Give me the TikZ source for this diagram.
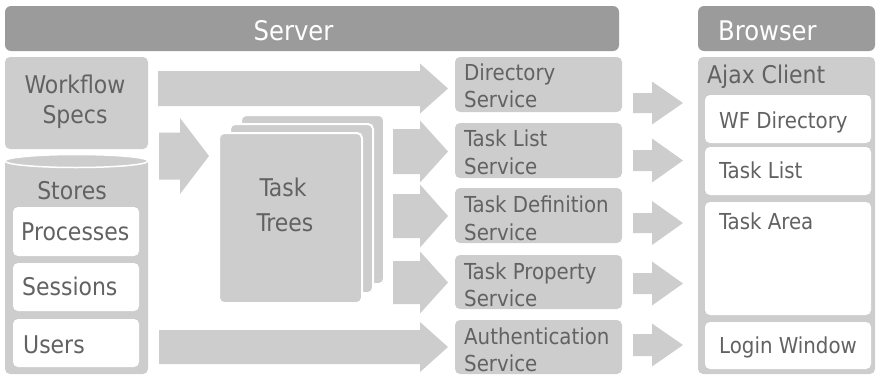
\documentclass[tikz,border=0pt]{standalone}
\usepackage{fontspec}
\setmainfont{DejaVu Sans Condensed}
\definecolor{barc}{HTML}{9B9B9B}
\definecolor{boxc}{HTML}{CDCDCD}
\definecolor{txtc}{HTML}{626262}
\newcommand\blockarrow[6]{%
  \fill[boxc] ({#1},{#4-#5}) -- ({#2},{#4-#5}) -- ({#2},{#4-#6}) -- ({#3},{#4})
    -- ({#2},{#4+#6}) -- ({#2},{#4+#5}) -- ({#1},{#4+#5}) -- cycle;}
\begin{document}
\begin{tikzpicture}[x=1pt,y=-1pt,
  bartxt/.style={font=\fontsize{27}{32}\selectfont, text=white, inner sep=0},
  bigtxt/.style={font=\fontsize{24.4}{29}\selectfont, text=txtc, inner sep=0},
  smtxt/.style={font=\fontsize{22}{26}\selectfont, text=txtc, inner sep=0},
  barbox/.style={fill=barc, rounded corners=6pt},
  panel/.style={fill=boxc, rounded corners=5pt},
  wbox/.style={fill=white, rounded corners=5pt},
  card/.style={fill=boxc, draw=white, line width=2pt, rounded corners=5pt}]
\useasboundingbox (0,0) rectangle (877,375);

% bars
\path[barbox] (5,6) rectangle (619,51);
\node[bartxt, anchor=base] (server) at (293.5,40.7) {Server};
\path[barbox] (698,6) rectangle (875,51);
\node[bartxt, anchor=base west] (browser) at (718,40.7) {Browser};

% workflow specs
\path[panel] (5,57) rectangle (148,149);
\node[bigtxt, anchor=base] (wf1) at (75,93.3) {Workflow};
\node[bigtxt, anchor=base] (wf2) at (75,123.3) {Specs};

% stores cylinder
\fill[boxc] (5,161) [rounded corners=5pt] -- (5,374) -- (148,374) [sharp corners] -- (148,161) -- cycle;
\filldraw[fill=boxc, draw=white, line width=1.5pt] (76.5,161) ellipse (71.5 and 6.5);
\node[bigtxt, anchor=base] (stores) at (72,199.3) {Stores};
\path[wbox] (13,207) rectangle (139,256);
\node[bigtxt, anchor=base west] (proc) at (21,240.7) {Processes};
\path[wbox] (13,263) rectangle (139,311);
\node[bigtxt, anchor=base west] (sess) at (22,295.7) {Sessions};
\path[wbox] (13,319) rectangle (139,367);
\node[bigtxt, anchor=base west] (users) at (23,353.3) {Users};

% task trees
\path[card] (241,115) rectangle (384,284);
\path[card] (230,124) rectangle (373,293);
\path[card] (219,133) rectangle (362,303);
\node[bigtxt, anchor=base] (tt1) at (283,196.7) {Task};
\node[bigtxt, anchor=base] (tt2) at (285,231.7) {Trees};

% arrows
\blockarrow{158}{420}{448}{88.5}{17.5}{25}
\blockarrow{159}{180}{209}{156}{23.5}{38}
\blockarrow{393}{420}{448}{151.5}{22.5}{31}
\blockarrow{393}{420}{448}{216}{22}{31.5}
\blockarrow{393}{420}{448}{282.5}{21.5}{31}
\blockarrow{159}{420}{448}{347}{17}{25}
\blockarrow{633}{652}{683}{103}{10}{21.5}
\blockarrow{633}{652}{683}{160.5}{10.5}{22}
\blockarrow{633}{652}{683}{223}{10}{22}
\blockarrow{633}{652}{683}{283.5}{10.5}{22}
\blockarrow{633}{652}{683}{345}{11}{21.5}

% services
\path[panel] (455,57) rectangle (622,112);
\node[smtxt, anchor=base west] (s1a) at (464,80.7) {Directory};
\node[smtxt, anchor=base west] (s1b) at (464,107.3) {Service};
\path[panel] (455,123) rectangle (622,178);
\node[smtxt, anchor=base west] (s2a) at (464,146.7) {Task List};
\node[smtxt, anchor=base west] (s2b) at (464,174) {Service};
\path[panel] (455,188) rectangle (622,243);
\node[smtxt, anchor=base west] (s3a) at (464,212.7) {Task Definition};
\node[smtxt, anchor=base west] (s3b) at (464,240) {Service};
\path[panel] (455,255) rectangle (622,309);
\node[smtxt, anchor=base west] (s4a) at (464,279) {Task Property};
\node[smtxt, anchor=base west] (s4b) at (464,306) {Service};
\path[panel] (455,320) rectangle (622,374);
\node[smtxt, anchor=base west] (s5a) at (464,344) {Authentication};
\node[smtxt, anchor=base west] (s5b) at (464,371) {Service};

% browser panel
\path[panel] (698,57) rectangle (875,374);
\node[bigtxt, anchor=base west] (ajax) at (707,83.3) {Ajax Client};
\path[wbox] (705,95) rectangle (871,143);
\node[smtxt, anchor=base west] (b1) at (719,128.3) {WF Directory};
\path[wbox] (705,147) rectangle (871,195);
\node[smtxt, anchor=base west] (b2) at (719,178.3) {Task List};
\path[wbox] (705,202) rectangle (871,315);
\node[smtxt, anchor=base west] (b3) at (719,229) {Task Area};
\path[wbox] (705,322) rectangle (871,369);
\node[smtxt, anchor=base west] (b4) at (719,353) {Login Window};
\end{tikzpicture}
\end{document}
